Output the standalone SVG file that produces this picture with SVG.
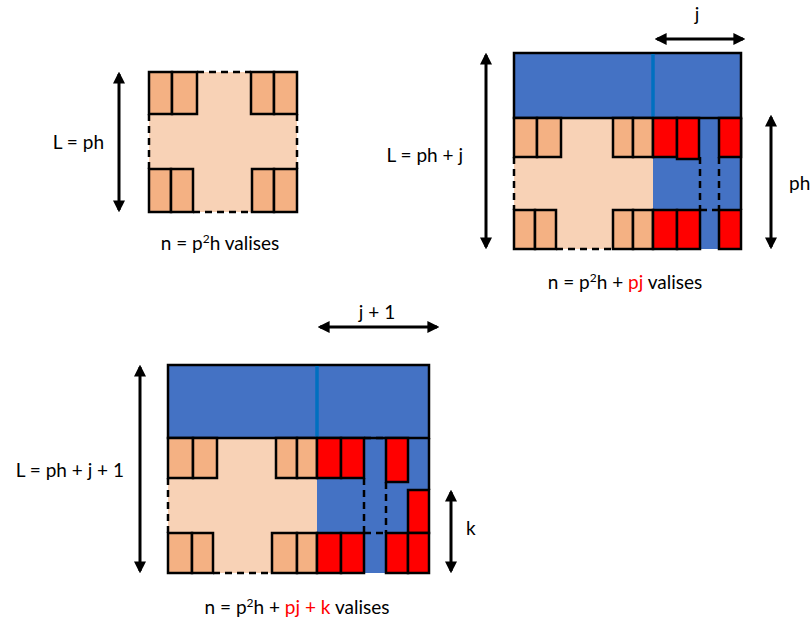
<svg xmlns="http://www.w3.org/2000/svg" width="812" height="622" viewBox="0 0 812 622">
  <style>
    .txt { font-family: Lato, "Liberation Sans", sans-serif; font-size: 19px; fill: #000; }
    .red { fill: #FF0000; }
    .peach { fill: #F8D2B6; stroke: none; }
    .blue { fill: #4472C4; stroke: none; }
    .box { fill: #F4B183; stroke: #000; stroke-width: 2.5; }
    .rbox { fill: #FF0000; stroke: #000; stroke-width: 2.5; }
    .edge { fill: none; stroke: #000; stroke-width: 2.5; }
    .dash { fill: none; stroke: #000; stroke-width: 2.5; stroke-dasharray: 7 5; }
    .seam { stroke: #0070C0; stroke-width: 3.5; }
    .dim { stroke: #000; stroke-width: 3; fill: none; marker-start: url(#ah); marker-end: url(#ah); }
  </style>
  <defs>
    <marker id="ah" viewBox="0 0 10 10" refX="8" refY="5" markerWidth="4" markerHeight="4" orient="auto-start-reverse" markerUnits="strokeWidth">
      <path d="M0,0 L10,5 L0,10 z" fill="#000"/>
    </marker>
  </defs>

  <rect width="812" height="622" fill="#fff"/>

  <!-- Layout 1: L = ph -->
  <g id="layout-1">
    <rect class="peach" x="149" y="72" width="148" height="140"/>
    <line class="dash" x1="197" y1="72" x2="251" y2="72"/>
    <line class="dash" x1="149" y1="114" x2="149" y2="169"/>
    <line class="dash" x1="297" y1="114" x2="297" y2="169"/>
    <line class="dash" x1="193" y1="212" x2="252" y2="212"/>
    <rect class="box" x="149" y="72" width="23" height="42"/>
    <rect class="box" x="172" y="72" width="25" height="42"/>
    <rect class="box" x="251" y="72" width="23" height="42"/>
    <rect class="box" x="274" y="72" width="23" height="42"/>
    <rect class="box" x="149" y="169" width="22" height="43"/>
    <rect class="box" x="171" y="169" width="22" height="43"/>
    <rect class="box" x="252" y="169" width="22" height="43"/>
    <rect class="box" x="274" y="169" width="23" height="43"/>
    <text class="txt" x="104" y="149" text-anchor="end">L = ph</text>
    <text class="txt" x="220" y="250" text-anchor="middle">n = p<tspan font-size="12" dy="-7">2</tspan><tspan dy="7">h valises</tspan></text>
  </g>

  <!-- Layout 2: L = ph + j -->
  <g id="layout-2">
    <rect class="peach" x="514" y="118" width="139" height="131"/>
    <rect class="blue" x="653" y="118" width="88" height="131"/>
    <rect class="blue" x="514" y="53" width="227" height="65"/>
    <path class="edge" d="M741,118 V210"/>
    <rect class="edge" x="514" y="53" width="227" height="65"/>
    <line class="seam" x1="653" y1="54" x2="653" y2="117"/>
    <line class="dash" x1="514" y1="157" x2="514" y2="210"/>
    <line class="dash" x1="556" y1="249" x2="613" y2="249"/>
    <line class="dash" x1="700" y1="157" x2="700" y2="210"/>
    <line class="dash" x1="719" y1="157" x2="719" y2="210"/>
    <rect class="box" x="514" y="118" width="23" height="39"/>
    <rect class="box" x="537" y="118" width="24" height="39"/>
    <rect class="box" x="613" y="118" width="20" height="39"/>
    <rect class="box" x="633" y="118" width="20" height="39"/>
    <rect class="rbox" x="653" y="118" width="24" height="39"/>
    <rect class="rbox" x="677" y="118" width="22" height="41"/>
    <rect class="rbox" x="719" y="118" width="22" height="39"/>
    <rect class="box" x="514" y="210" width="21" height="39"/>
    <rect class="box" x="535" y="210" width="21" height="39"/>
    <rect class="box" x="613" y="210" width="20" height="39"/>
    <rect class="box" x="633" y="210" width="20" height="39"/>
    <rect class="rbox" x="653" y="210" width="24" height="39"/>
    <rect class="rbox" x="677" y="210" width="23" height="39"/>
    <rect class="rbox" x="719" y="210" width="22" height="39"/>
    <line class="dash" x1="700" y1="210" x2="719" y2="210"/>
    <text class="txt" x="463" y="162" text-anchor="end">L = ph + j</text>
    <text class="txt" x="789" y="190">ph</text>
    <text class="txt" x="697" y="21" text-anchor="middle">j</text>
    <text class="txt" x="625" y="289" text-anchor="middle">n = p<tspan font-size="12" dy="-7">2</tspan><tspan dy="7">h + </tspan><tspan class="red">pj</tspan> valises</text>
  </g>

  <!-- Layout 3: L = ph + j + 1 -->
  <g id="layout-3">
    <rect class="peach" x="168" y="438" width="149" height="135"/>
    <rect class="blue" x="317" y="438" width="112" height="135"/>
    <rect class="blue" x="168" y="365" width="261" height="73"/>
    <path class="edge" d="M429,438 V490"/>
    <rect class="edge" x="168" y="365" width="261" height="73"/>
    <line class="seam" x1="317" y1="366" x2="317" y2="437"/>
    <line class="dash" x1="168" y1="478" x2="168" y2="533"/>
    <line class="dash" x1="213" y1="573" x2="272" y2="573"/>
    <line class="dash" x1="364" y1="478" x2="364" y2="533"/>
    <line class="dash" x1="386" y1="482" x2="386" y2="533"/>
    <rect class="box" x="168" y="438" width="25" height="40"/>
    <rect class="box" x="193" y="438" width="24" height="40"/>
    <rect class="box" x="276" y="438" width="21" height="40"/>
    <rect class="box" x="297" y="438" width="20" height="40"/>
    <rect class="rbox" x="317" y="438" width="24" height="40"/>
    <rect class="rbox" x="341" y="438" width="23" height="40"/>
    <rect class="rbox" x="386" y="438" width="22" height="44"/>
    <rect class="rbox" x="408" y="490" width="21" height="43"/>
    <rect class="box" x="168" y="533" width="24" height="40"/>
    <rect class="box" x="192" y="533" width="21" height="40"/>
    <rect class="box" x="272" y="533" width="25" height="40"/>
    <rect class="box" x="297" y="533" width="20" height="40"/>
    <rect class="rbox" x="317" y="533" width="24" height="40"/>
    <rect class="rbox" x="341" y="533" width="23" height="40"/>
    <rect class="rbox" x="386" y="533" width="22" height="40"/>
    <rect class="rbox" x="408" y="533" width="21" height="40"/>
    <line class="dash" x1="364" y1="438" x2="386" y2="438"/>
    <line class="dash" x1="364" y1="533" x2="386" y2="533"/>
    <text class="txt" x="124" y="477" text-anchor="end">L = ph + j + 1</text>
    <text class="txt" x="377" y="319" text-anchor="middle">j + 1</text>
    <text class="txt" x="466" y="535">k</text>
    <text class="txt" x="297" y="614" text-anchor="middle">n = p<tspan font-size="12" dy="-7">2</tspan><tspan dy="7">h + </tspan><tspan class="red">pj + k</tspan> valises</text>
  </g>

  <!-- dimension arrows -->
  <g id="connectors">
    <line class="dim" x1="119" y1="74" x2="119" y2="210"/>
    <line class="dim" x1="486" y1="55" x2="486" y2="247"/>
    <line class="dim" x1="771" y1="117" x2="771" y2="247"/>
    <line class="dim" x1="657" y1="39" x2="743" y2="39"/>
    <line class="dim" x1="140" y1="367" x2="140" y2="571"/>
    <line class="dim" x1="320" y1="327" x2="437" y2="327"/>
    <line class="dim" x1="451" y1="492" x2="451" y2="571"/>
  </g>
</svg>
